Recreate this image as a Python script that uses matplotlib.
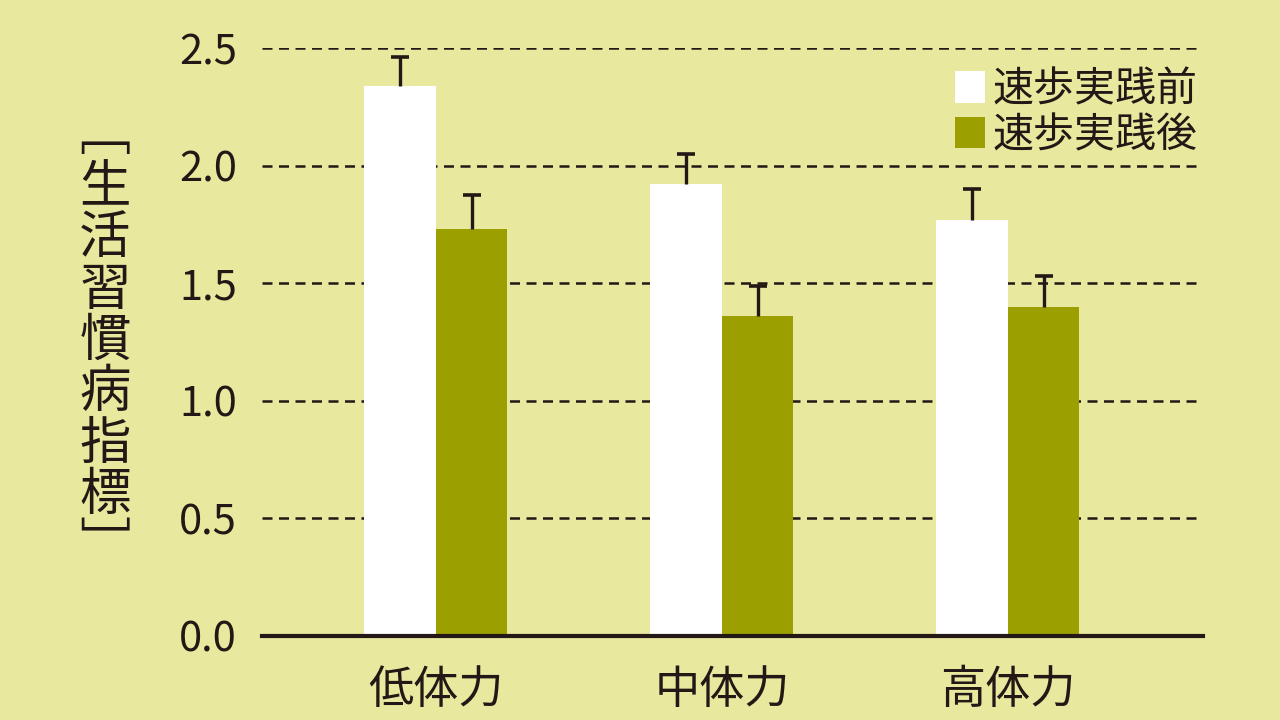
import numpy as np
import matplotlib.pyplot as plt
from matplotlib.patches import Patch

plt.rcParams['font.family'] = ['Noto Sans CJK JP', 'DejaVu Sans']

groups = ["低体力", "中体力", "高体力"]
series = ["速歩実践前", "速歩実践後"]
before = [2.34, 1.92, 1.77]
after = [1.73, 1.36, 1.40]
before_err = [0.12, 0.13, 0.13]
after_err = [0.145, 0.13, 0.13]

bg = "#e8e89e"
green = "#9c9f00"
ink = "#231815"

fig = plt.figure(figsize=(12.8, 7.2), dpi=100, facecolor=bg)
ax = fig.add_axes([0.2047, 0.1167, 0.7351, 0.8166], facecolor=bg)

x = np.arange(len(groups))
w = 0.25
ax.bar(x - w / 2, before, w, color="white", zorder=2)
ax.bar(x + w / 2, after, w, color=green, zorder=2)

# upper error bars only, with a cap on top
for xs, vals, errs in [(x - w / 2, before, before_err), (x + w / 2, after, after_err)]:
    tops = np.array(vals) + np.array(errs)
    ax.errorbar(xs, vals, yerr=[np.zeros(3), errs], fmt="none",
                ecolor=ink, elinewidth=2.4, capsize=0, zorder=3)
    ax.plot(xs, tops, linestyle="none", marker="_", markersize=13,
            markeredgewidth=2.6, color=ink, zorder=3)

ax.set_xlim(-0.608, 2.682)
ax.set_ylim(0, 2.5)
ax.set_yticks(np.arange(0, 2.51, 0.5))
ax.set_yticklabels([f"{v:.1f}" for v in np.arange(0, 2.51, 0.5)])
ax.yaxis.grid(True, linestyle=(0, (4, 2.6)), color=ink, linewidth=1.8, zorder=0)
ax.set_axisbelow(True)
ax.set_xticks(x)
ax.set_xticklabels(groups)
ax.tick_params(axis="both", length=0, colors=ink, labelsize=30)
ax.tick_params(axis="y", pad=18)
ax.tick_params(axis="x", pad=22, labelsize=32.5)
for s in ["left", "right", "top"]:
    ax.spines[s].set_visible(False)
ax.spines["bottom"].set_color(ink)
ax.spines["bottom"].set_linewidth(3)
ax.spines["bottom"].set_zorder(4)

label = "\n".join("﹇生活習慣病指標﹈")
fig.text(0.082, 0.526, label, ha="center", va="center", fontsize=37,
         color=ink, linespacing=0.95)

handles = [Patch(facecolor="white", edgecolor="none"),
           Patch(facecolor=green, edgecolor="none")]
leg = ax.legend(handles, series, loc="upper right", bbox_to_anchor=(1.012, 0.992),
                frameon=False, fontsize=29.5, handlelength=0.72, handleheight=0.8,
                handletextpad=0.2, labelspacing=0.12, borderaxespad=0)
for t in leg.get_texts():
    t.set_color(ink)

fig.savefig("out.png", dpi=100, facecolor=bg)
